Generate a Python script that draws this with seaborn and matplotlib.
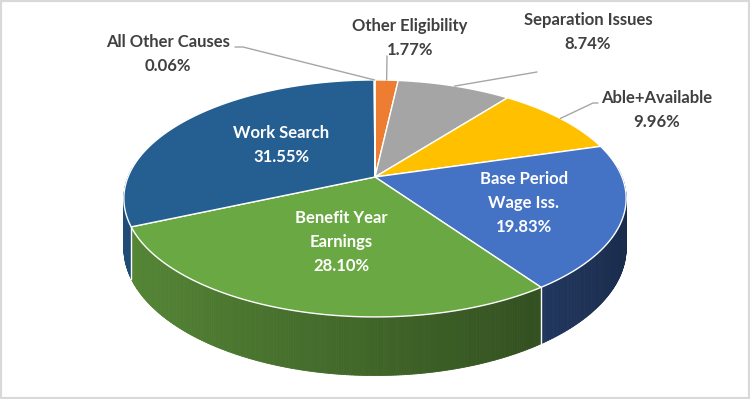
import numpy as np
import matplotlib
matplotlib.use("Agg")
import matplotlib.pyplot as plt
import seaborn as sns
from matplotlib.collections import PolyCollection
from matplotlib.patches import Rectangle

# Data (clockwise from 12 o'clock)
causes = ["Other Eligibility", "Separation Issues", "Able+Available",
          "Base Period\nWage Iss.", "Benefit Year\nEarnings", "Work Search",
          "All Other Causes"]
shares = [1.77, 8.74, 9.96, 19.83, 28.10, 31.55, 0.06]
slice_colors = ["#ED7D31", "#A5A5A5", "#FFC000", "#4472C4", "#6AA843",
                "#255E91", "#5B9BD5"]

sns.set_theme(style="white")
plt.rcParams["font.family"] = ["Lato", "DejaVu Sans"]
palette = sns.color_palette(slice_colors)

# pie geometry in pixel space (perspective view of a tilted disc)
CX, CY = 375, 177
A, B = 247, 114.6
K = 0.181
H = 48


def project(phi, depth=0.0):
    phi = np.radians(phi)
    u, v = np.sin(phi), np.cos(phi)
    w = 1 + K * v
    return CX + A * u / w, CY - B * v / w + depth / w


fig = plt.figure(figsize=(7.5, 3.99), dpi=100)
ax = fig.add_axes([0, 0, 1, 1])
ax.set_xlim(0, 750)
ax.set_ylim(399, 0)
ax.axis("off")

vals = np.array(shares) / np.sum(shares) * 360
bounds = np.concatenate([[0], np.cumsum(vals)])
mids = (bounds[:-1] + bounds[1:]) / 2

# side walls (front half only)
polys, fcols = [], []
for i in range(len(shares)):
    lo, hi = max(bounds[i], 85), min(bounds[i + 1], 275)
    if hi <= lo:
        continue
    phis = np.linspace(lo, hi, int((hi - lo) * 2) + 2)
    base = np.array(palette[i])
    for a0, a1 in zip(phis[:-1], phis[1:]):
        x0, y0 = project(a0)
        x1, y1 = project(a1)
        x2, y2 = project(a1, H)
        x3, y3 = project(a0, H)
        um = np.sin(np.radians((a0 + a1) / 2))
        f = 0.6 - 0.22 * um
        polys.append([(x0, y0), (x1, y1), (x2, y2), (x3, y3)])
        fcols.append(tuple(np.clip(base * f, 0, 1)))
ax.add_collection(PolyCollection(polys, facecolors=fcols, edgecolors=fcols,
                                 linewidths=0.6, zorder=1))

# boundary lines on the wall
for b in bounds:
    if 90 < b < 270:
        xs, ys = zip(project(b), project(b, H))
        ax.plot(xs, ys, color="white", lw=1, zorder=2)

# top faces
for i in range(len(shares)):
    phis = np.linspace(bounds[i], bounds[i + 1], max(int(vals[i] * 2), 2))
    xs, ys = project(phis)
    xs = np.concatenate([[CX], xs])
    ys = np.concatenate([[CY], ys])
    ax.fill(xs, ys, facecolor=palette[i], edgecolor="white", lw=1, zorder=3)

# labels inside
inner = {3: (524, 203), 4: (341, 242), 5: (281, 145)}
for i, pos in inner.items():
    ax.text(pos[0], pos[1], f"{causes[i]}\n{shares[i]:.2f}%", color="white",
            ha="center", va="center", fontsize=12, fontweight="bold",
            linespacing=1.62, zorder=5)

# labels outside with leader lines
outer = {
    6: ((168, 54), [(243, 47), (235, 47)]),
    0: ((410, 38), [(387, 56)]),
    1: ((588, 32), [(537, 72)]),
    2: ((657, 110), [(593, 103), (598, 103)]),
}
for i, (pos, path) in outer.items():
    pts = [project(mids[i])] + path
    xs, ys = zip(*pts)
    ax.plot(xs, ys, color="#A6A6A6", lw=1, zorder=4)
    ax.text(pos[0], pos[1], f"{causes[i]}\n{shares[i]:.2f}%", color="#404040",
            ha="center", va="center", fontsize=12, fontweight="bold",
            linespacing=1.62, zorder=5)

fig.patches.append(Rectangle((0, 0), 1, 1, transform=fig.transFigure,
                             fill=False, edgecolor="#D9D9D9", lw=3))

fig.savefig("out.png", dpi=100)
